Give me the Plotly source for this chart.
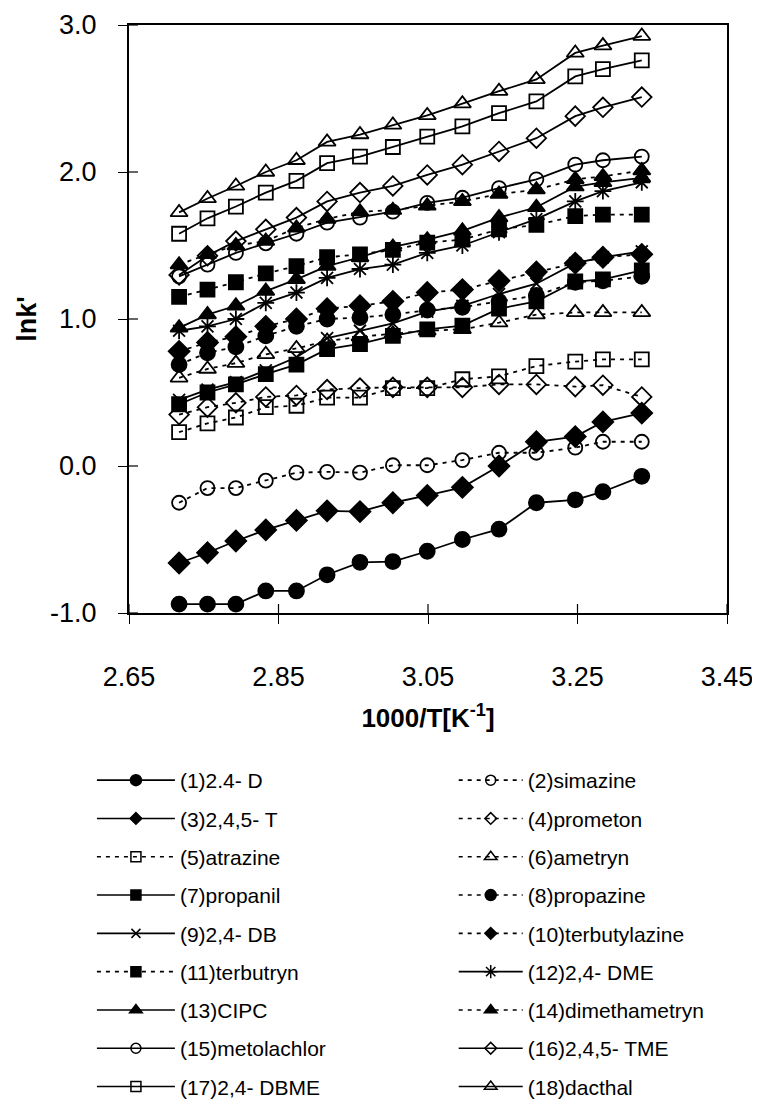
import plotly.graph_objects as go

# 1000/T values (K^-1)
inv_T = [2.717, 2.755, 2.793, 2.833, 2.874, 2.915, 2.959, 3.003, 3.049,
         3.096, 3.145, 3.195, 3.247, 3.284, 3.336]

names = ["(1)2.4- D", "(2)simazine", "(3)2,4,5- T", "(4)prometon",
         "(5)atrazine", "(6)ametryn", "(7)propanil", "(8)propazine",
         "(9)2,4- DB", "(10)terbutylazine", "(11)terbutryn", "(12)2,4- DME",
         "(13)CIPC", "(14)dimethametryn", "(15)metolachlor", "(16)2,4,5- TME",
         "(17)2,4- DBME", "(18)dacthal"]

s1 = [-0.94, -0.94, -0.94, -0.85, -0.85, -0.74, -0.655, -0.65, -0.58, -0.50, -0.43, -0.25, -0.23, -0.175, -0.07]
s2 = [-0.25, -0.15, -0.15, -0.10, -0.045, -0.04, -0.045, 0.005, 0.005, 0.04, 0.09, 0.09, 0.125, 0.165, 0.165]
s3 = [-0.66, -0.59, -0.51, -0.435, -0.37, -0.305, -0.31, -0.25, -0.20, -0.145, 0.0, 0.165, 0.20, 0.30, 0.36]
s4 = [0.35, 0.40, 0.43, 0.47, 0.48, 0.52, 0.53, 0.535, 0.535, 0.535, 0.555, 0.555, 0.54, 0.55, 0.47]
s5 = [0.23, 0.29, 0.33, 0.40, 0.41, 0.465, 0.465, 0.53, 0.53, 0.59, 0.61, 0.68, 0.71, 0.725, 0.725]
s6 = [0.60, 0.66, 0.70, 0.76, 0.80, 0.85, 0.88, 0.90, 0.92, 0.93, 0.975, 1.03, 1.045, 1.045, 1.045]
s7 = [0.42, 0.50, 0.555, 0.625, 0.69, 0.795, 0.83, 0.885, 0.93, 0.955, 1.07, 1.12, 1.255, 1.27, 1.33]
s8 = [0.69, 0.77, 0.81, 0.885, 0.95, 1.00, 1.01, 1.03, 1.06, 1.08, 1.12, 1.16, 1.25, 1.26, 1.29]
s9 = [0.45, 0.52, 0.57, 0.65, 0.74, 0.87, 0.92, 0.97, 1.05, 1.09, 1.17, 1.24, 1.38, 1.42, 1.46]
s10 = [0.78, 0.84, 0.88, 0.95, 1.00, 1.07, 1.09, 1.12, 1.18, 1.20, 1.26, 1.32, 1.38, 1.42, 1.44]
s11 = [1.15, 1.20, 1.25, 1.31, 1.36, 1.42, 1.44, 1.47, 1.52, 1.54, 1.61, 1.64, 1.70, 1.71, 1.71]
s12 = [0.92, 0.95, 1.00, 1.11, 1.18, 1.28, 1.34, 1.37, 1.45, 1.50, 1.59, 1.68, 1.80, 1.87, 1.93]
s13 = [0.94, 1.03, 1.09, 1.19, 1.27, 1.36, 1.42, 1.49, 1.54, 1.60, 1.69, 1.76, 1.90, 1.93, 1.96]
s14 = [1.37, 1.44, 1.50, 1.53, 1.62, 1.68, 1.73, 1.74, 1.77, 1.80, 1.85, 1.88, 1.95, 1.97, 2.01]
s15 = [1.29, 1.37, 1.45, 1.515, 1.58, 1.655, 1.69, 1.73, 1.79, 1.825, 1.89, 1.95, 2.05, 2.08, 2.105]
s16 = [1.30, 1.43, 1.53, 1.61, 1.69, 1.80, 1.86, 1.905, 1.98, 2.05, 2.14, 2.23, 2.38, 2.44, 2.51]
s17 = [1.58, 1.685, 1.765, 1.86, 1.94, 2.06, 2.105, 2.17, 2.24, 2.31, 2.40, 2.48, 2.65, 2.70, 2.76]
s18 = [1.725, 1.82, 1.905, 2.0, 2.08, 2.205, 2.255, 2.32, 2.385, 2.465, 2.55, 2.63, 2.81, 2.86, 2.925]

series = [s1, s2, s3, s4, s5, s6, s7, s8, s9, s10, s11, s12, s13, s14, s15, s16, s17, s18]

x_ticks = [2.65, 2.85, 3.05, 3.25, 3.45]
y_ticks = [-1.0, 0.0, 1.0, 2.0, 3.0]

symbols = ["circle", "circle-open", "diamond", "diamond-open", "square-open",
           "triangle-up-open", "square", "circle", "x-thin-open", "diamond",
           "square", "asterisk-open", "triangle-up", "triangle-up",
           "circle-open", "diamond-open", "square-open", "triangle-up-open"]
dashes = ["solid", "4px,5px", "solid", "4px,5px", "4px,5px", "4px,5px", "solid",
          "4px,5px", "solid", "4px,5px", "4px,5px", "solid", "solid", "4px,5px",
          "solid", "solid", "solid", "solid"]
sizes = {"circle": 15, "circle-open": 14, "diamond": 16, "diamond-open": 15,
         "square": 14, "square-open": 14, "triangle-up": 15,
         "triangle-up-open": 15, "x-thin-open": 12, "asterisk-open": 14}
key_sizes = {"circle": 11, "circle-open": 10, "diamond": 9, "diamond-open": 9,
             "square": 10, "square-open": 10, "triangle-up": 11,
             "triangle-up-open": 11, "x-thin-open": 9, "asterisk-open": 11}

FONT = "Liberation Sans, Arial, sans-serif"

fig = go.Figure()
for i, (nm, ys) in enumerate(zip(names, series)):
    sym = symbols[i]
    fig.add_trace(go.Scatter(
        x=inv_T, y=ys, name=nm, mode="lines+markers",
        line=dict(color="black", width=1.8, dash=dashes[i]),
        marker=dict(symbol=sym, size=sizes[sym], color="black",
                    line=dict(color="black", width=1.8)),
        legendgroup=nm, showlegend=False,
    ))

# legend entries (smaller symbols, as in the reference key)
for i, nm in enumerate(names):
    sym = symbols[i]
    fig.add_trace(go.Scatter(
        x=[None], y=[None], name=nm, mode="lines+markers",
        line=dict(color="black", width=1.6, dash=dashes[i]),
        marker=dict(symbol=sym, size=key_sizes[sym], color="black",
                    line=dict(color="black", width=1.5)),
        legend="legend" if i % 2 == 0 else "legend2",
        legendgroup=nm, showlegend=True, hoverinfo="skip",
    ))

shapes = []
for t in x_ticks:
    shapes.append(dict(type="line", xref="x", yref="paper", x0=t, x1=t,
                       ysizemode="pixel", yanchor=0, y0=0, y1=9,
                       line=dict(color="black", width=1.2)))
for t in y_ticks:
    shapes.append(dict(type="line", yref="y", xref="paper", y0=t, y1=t,
                       xsizemode="pixel", xanchor=0, x0=0, x1=9,
                       line=dict(color="black", width=1.2)))

fig.update_layout(
    width=752, height=1093,
    margin=dict(l=121, r=33, t=17, b=488, autoexpand=False),
    paper_bgcolor="white", plot_bgcolor="white",
    font=dict(family=FONT, color="black"),
    shapes=shapes,
    xaxis=dict(range=[2.65, 3.45], tickvals=x_ticks,
               ticktext=["%.2f" % v for v in x_ticks],
               showgrid=False, zeroline=False, showline=True, linecolor="black",
               linewidth=2, mirror=True, ticks="outside", ticklen=9,
               tickwidth=1.2, tickcolor="black",
               tickfont=dict(size=27, family=FONT), ticklabelstandoff=30,
               title=dict(text="<b>1000/T[K<sup>-1</sup>]</b>",
                          font=dict(size=26, family=FONT), standoff=17)),
    yaxis=dict(range=[-1.0, 3.0], tickvals=y_ticks,
               ticktext=["%.1f" % v for v in y_ticks],
               showgrid=False, zeroline=False, showline=True, linecolor="black",
               linewidth=2, mirror=True, ticks="outside", ticklen=9,
               tickwidth=1.2, tickcolor="black",
               tickfont=dict(size=27, family=FONT), ticklabelstandoff=16,
               title=dict(text="<b>lnk'</b>", font=dict(size=27, family=FONT),
                          standoff=6)),
    legend=dict(x=-0.062, xanchor="left", y=-0.25, yanchor="top",
                orientation="v", itemwidth=78, tracegroupgap=8,
                font=dict(size=21, family=FONT), bgcolor="rgba(0,0,0,0)"),
    legend2=dict(x=0.543, xanchor="left", y=-0.25, yanchor="top",
                 orientation="v", itemwidth=64, tracegroupgap=8,
                 font=dict(size=21, family=FONT), bgcolor="rgba(0,0,0,0)"),
    showlegend=True,
)

fig.write_html("out.html")
